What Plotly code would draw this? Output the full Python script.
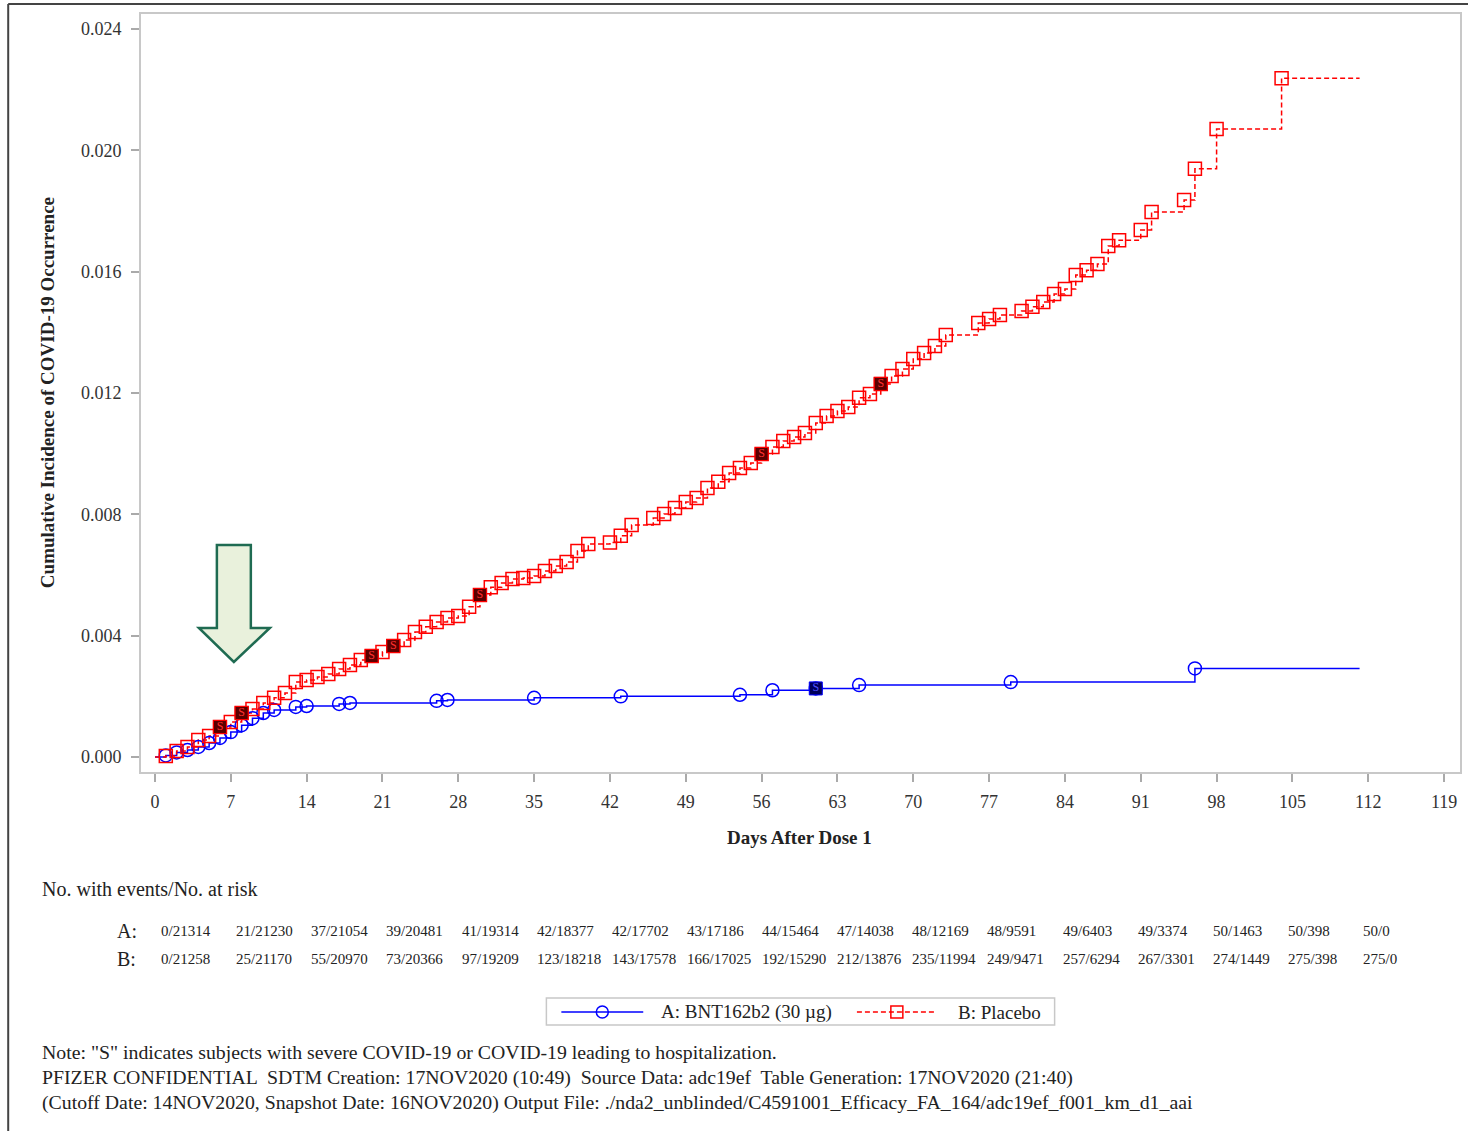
import plotly.graph_objects as go

# ---------------- data ----------------
vac_days = [1, 2, 3, 4, 5, 6, 7, 8, 9, 10, 11, 13, 14, 17, 18, 26, 27, 35, 43, 54, 57, 61, 65, 79, 96]
vac_inc = [0.00005, 0.00015, 0.00023, 0.00033, 0.00046, 0.00063, 0.00082, 0.00105, 0.00128, 0.00145,
           0.00155, 0.00165, 0.00168, 0.00175, 0.00178, 0.00185, 0.00188, 0.00195, 0.00200, 0.00205,
           0.00220, 0.00226, 0.00237, 0.00247, 0.00292]
vac_severe_days = [61]

pla_days = [1, 2, 3, 4, 5, 6, 7, 8, 9, 10, 11, 12, 13, 14, 15, 16, 17, 18, 19, 20,
            21, 22, 23, 24, 25, 26, 27, 28, 29, 30, 31, 32, 33, 34, 35, 36, 37, 38, 39, 40,
            42, 43, 44, 46, 47, 48, 49, 50, 51, 52, 53, 54, 55, 56, 57, 58, 59, 60, 61, 62,
            63, 64, 65, 66, 67, 68, 69, 70, 71, 72, 73, 76, 77, 78, 80, 81, 82, 83, 84, 85,
            86, 87, 88, 89, 91, 92, 95, 96, 98, 104]
pla_inc = [0.00003, 0.00020, 0.00033, 0.00056, 0.00069, 0.00099, 0.00115, 0.00145, 0.00158, 0.00178,
           0.00195, 0.00211, 0.00247, 0.00254, 0.00264, 0.00274, 0.00290, 0.00303, 0.00320, 0.00333,
           0.00346, 0.00366, 0.00386, 0.00412, 0.00429, 0.00445, 0.00458, 0.00465, 0.00495, 0.00534,
           0.00560, 0.00574, 0.00587, 0.00590, 0.00597, 0.00613, 0.00630, 0.00643, 0.00679, 0.00702,
           0.00707, 0.00729, 0.00765, 0.00788, 0.00801, 0.00821, 0.00841, 0.00854, 0.00887, 0.00907,
           0.00936, 0.00953, 0.00969, 0.00999, 0.01022, 0.01042, 0.01055, 0.01068, 0.01101, 0.01124,
           0.01141, 0.01154, 0.01184, 0.01197, 0.01230, 0.01256, 0.01279, 0.01312, 0.01332, 0.01355,
           0.01391, 0.01431, 0.01444, 0.01457, 0.01470, 0.01484, 0.01500, 0.01526, 0.01543, 0.01589,
           0.01605, 0.01625, 0.01685, 0.01704, 0.01737, 0.01797, 0.01836, 0.01939, 0.02070, 0.02238]
pla_severe_days = [6, 8, 20, 22, 30, 56, 67]

follow_end = 111.2

x_ticks = [0, 7, 14, 21, 28, 35, 42, 49, 56, 63, 70, 77, 84, 91, 98, 105, 112, 119]
y_ticks = [0.000, 0.004, 0.008, 0.012, 0.016, 0.020, 0.024]

risk_A = ["0/21314", "21/21230", "37/21054", "39/20481", "41/19314", "42/18377", "42/17702", "43/17186",
          "44/15464", "47/14038", "48/12169", "48/9591", "49/6403", "49/3374", "50/1463", "50/398", "50/0"]
risk_B = ["0/21258", "25/21170", "55/20970", "73/20366", "97/19209", "123/18218", "143/17578", "166/17025",
          "192/15290", "212/13876", "235/11994", "249/9471", "257/6294", "267/3301", "274/1449", "275/398", "275/0"]

name_A = "A: BNT162b2 (30 µg)"
name_B = "B: Placebo"

# ---------------- layout helpers ----------------
W, H = 1470, 1131
L, R, T, B = 141, 8, 14, 359
PW, PH = W - L - R, H - T - B


def px(x):
    return (x - L) / PW


def py(y):
    return (H - B - y) / PH


FONT = "Liberation Serif"
TXT = "#222222"
BLUE = "#0000ff"
RED = "#ff0000"

fig = go.Figure()

# step lines
fig.add_trace(go.Scatter(x=[0] + vac_days + [follow_end], y=[0] + vac_inc + [vac_inc[-1]],
                         mode="lines", line=dict(color=BLUE, width=1.5, shape="hv"),
                         showlegend=False, hoverinfo="skip"))
fig.add_trace(go.Scatter(x=[0] + pla_days + [follow_end], y=[0] + pla_inc + [pla_inc[-1]],
                         mode="lines", line=dict(color=RED, width=1.5, shape="hv", dash="5px,3px"),
                         showlegend=False, hoverinfo="skip"))

# event markers
fig.add_trace(go.Scatter(x=vac_days, y=vac_inc, mode="markers", name=name_A,
                         marker=dict(symbol="circle-open", size=13, color=BLUE, line=dict(width=1.5)),
                         showlegend=False))
fig.add_trace(go.Scatter(x=pla_days, y=pla_inc, mode="markers", name=name_B,
                         marker=dict(symbol="square-open", size=13, color=RED, line=dict(width=1.5)),
                         showlegend=False))

# severe markers
pla_sev_y = [pla_inc[pla_days.index(d)] for d in pla_severe_days]
vac_sev_y = [vac_inc[vac_days.index(d)] for d in vac_severe_days]
fig.add_trace(go.Scatter(x=pla_severe_days, y=pla_sev_y, mode="markers+text", text=["S"] * len(pla_severe_days),
                         textposition="middle center",
                         textfont=dict(family=FONT, size=12, color="#ff3030"),
                         marker=dict(symbol="square", size=13, color="#5a0000", line=dict(color=RED, width=1)),
                         showlegend=False))
fig.add_trace(go.Scatter(x=vac_severe_days, y=vac_sev_y, mode="markers+text", text=["S"] * len(vac_severe_days),
                         textposition="middle center",
                         textfont=dict(family=FONT, size=12, color="#5050ff"),
                         marker=dict(symbol="square", size=13, color="#00005a", line=dict(color=BLUE, width=1)),
                         showlegend=False))

shapes = []
annotations = []


def note(text, x, y, size, xanchor="left", yanchor="middle", **kw):
    annotations.append(dict(text=text, xref="paper", yref="paper", x=px(x), y=py(y), xanchor=xanchor,
                            yanchor=yanchor, showarrow=False, font=dict(family=FONT, size=size, color=TXT), **kw))


# outer frame
shapes.append(dict(type="line", xref="paper", yref="paper", x0=px(8), x1=px(1470), y0=py(4), y1=py(4),
                   line=dict(color="#444444", width=2)))
shapes.append(dict(type="line", xref="paper", yref="paper", x0=px(8), x1=px(8), y0=py(4), y1=py(1131),
                   line=dict(color="#444444", width=2)))

# arrow
arrow_pts = [(217, 545), (251, 545), (251, 628), (270, 628), (234, 662), (199, 628), (217, 628)]
path = "M " + " L ".join(f"{px(a):.5f},{py(b):.5f}" for a, b in arrow_pts) + " Z"
shapes.append(dict(type="path", xref="paper", yref="paper", path=path,
                   fillcolor="#e9f1dc", line=dict(color="#1f6b52", width=2.5)))

# axis titles
note("<b>Days After Dose 1</b>", 800, 837, 19, xanchor="center")
note("<b>Cumulative Incidence of COVID-19 Occurrence</b>", 47, 393, 19, xanchor="center", textangle=-90)

# risk table
note("No. with events/No. at risk", 40, 889, 20)
note("A:", 115, 931, 20)
note("B:", 115, 959, 20)
for k, (a, b) in enumerate(zip(risk_A, risk_B)):
    xl = 159 + 75.25 * k
    note(a, xl, 931, 15)
    note(b, xl, 959, 15)

# legend (drawn)
shapes.append(dict(type="rect", xref="paper", yref="paper", x0=px(547), x1=px(1056), y0=py(998), y1=py(1025),
                   line=dict(color="#c8c8c8", width=1.5), fillcolor="white"))
shapes.append(dict(type="line", xref="paper", yref="paper", x0=px(562), x1=px(644), y0=py(1012), y1=py(1012),
                   line=dict(color=BLUE, width=1.5)))
shapes.append(dict(type="circle", xref="paper", yref="paper", x0=px(597), x1=px(609), y0=py(1006), y1=py(1018),
                   line=dict(color=BLUE, width=1.5)))
shapes.append(dict(type="line", xref="paper", yref="paper", x0=px(858), x1=px(938), y0=py(1012), y1=py(1012),
                   line=dict(color=RED, width=1.5, dash="5px,3px")))
shapes.append(dict(type="rect", xref="paper", yref="paper", x0=px(892), x1=px(904), y0=py(1006), y1=py(1018),
                   line=dict(color=RED, width=1.5)))
note(name_A, 660, 1012, 19)
note(name_B, 957, 1012, 19)

# footnotes
notes = [
    'Note: "S" indicates subjects with severe COVID-19 or COVID-19 leading to hospitalization.',
    "PFIZER CONFIDENTIAL  SDTM Creation: 17NOV2020 (10:49)  Source Data: adc19ef  Table Generation: 17NOV2020 (21:40)",
    "(Cutoff Date: 14NOV2020, Snapshot Date: 16NOV2020) Output File: ./nda2_unblinded/C4591001_Efficacy_FA_164/adc19ef_f001_km_d1_aai",
]
for i, n in enumerate(notes):
    note(n, 40, 1052 + 25 * i, 19.8)

fig.update_layout(
    width=W, height=H,
    margin=dict(l=L, r=R, t=T, b=B, pad=0),
    paper_bgcolor="white", plot_bgcolor="white",
    showlegend=False,
    shapes=shapes, annotations=annotations,
    font=dict(family=FONT, color=TXT),
)
fig.update_xaxes(range=[-1.29, 120.47], tickvals=x_ticks, ticks="outside", ticklen=8, tickwidth=1.5,
                 tickcolor="#aaaaaa", showline=True, linecolor="#c8c8c8", linewidth=2, mirror=True,
                 showgrid=False, zeroline=False, tickfont=dict(family=FONT, size=18, color="#333333"),
                 ticklabelstandoff=4)
fig.update_yaxes(range=[-0.000495, 0.024495], tickvals=y_ticks, tickformat=".3f", ticks="outside", ticklen=8,
                 tickwidth=1.5, tickcolor="#aaaaaa", showline=True, linecolor="#c8c8c8", linewidth=2, mirror=True,
                 showgrid=False, zeroline=False, tickfont=dict(family=FONT, size=18, color="#333333"),
                 ticklabelstandoff=6)

fig.write_html("out.html", config={"displayModeBar": False},
               post_script="document.body.style.margin='0';")
